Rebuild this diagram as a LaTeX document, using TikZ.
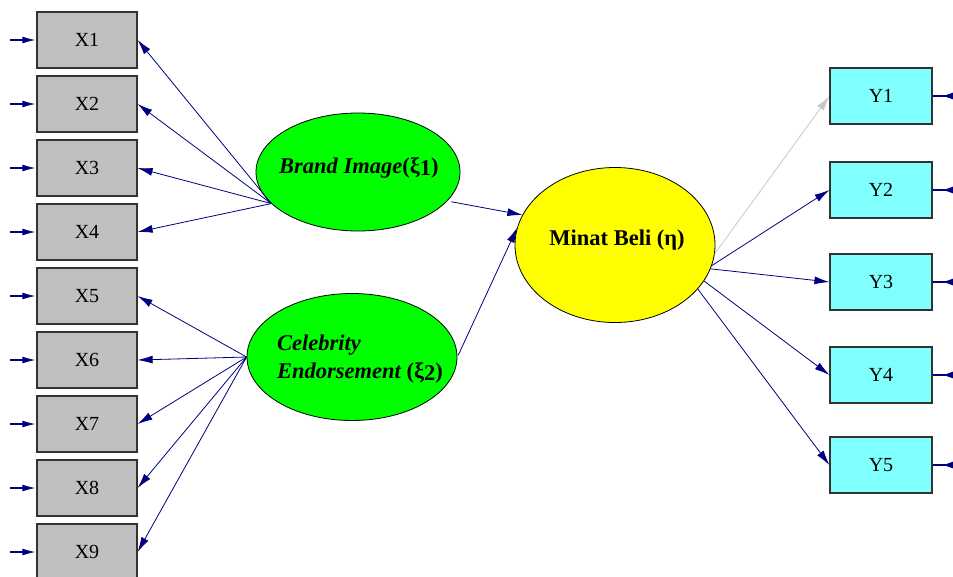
\documentclass[tikz,border=0pt]{standalone}
\usepackage{fontspec}
\setmainfont{Liberation Serif}
\usetikzlibrary{arrows.meta,shapes.geometric}
\definecolor{navy}{HTML}{000080}
\definecolor{boxgrey}{HTML}{C0C0C0}
\definecolor{cyanbox}{HTML}{80FFFF}
\definecolor{lgreen}{HTML}{00FF00}
\definecolor{lyellow}{HTML}{FFFF00}
\definecolor{lgrey}{HTML}{C8C8C8}
\begin{document}
\begin{tikzpicture}[x=1pt,y=-1pt,
  xbox/.style={draw=black!80,line width=1.2pt,fill=boxgrey,minimum width=100pt,minimum height=56pt,inner sep=0pt,font=\fontsize{20}{22}\selectfont},
  ybox/.style={xbox,fill=cyanbox,minimum width=102pt},
  lat/.style={ellipse,draw=black,line width=0.8pt,inner sep=0pt},
  lnk/.style={draw=navy,line width=0.8pt,-{Latex[length=15pt,width=8pt]}},
  err/.style={draw=navy,line width=1.2pt,-{Latex[length=13pt,width=7pt]}},
  erry/.style={draw=navy,line width=1.2pt,-{Latex[length=11pt,width=7pt,reversed]}},
  lattext/.style={font=\fontsize{22.5}{28}\selectfont\bfseries\itshape,inner sep=0pt,align=left}
]
\useasboundingbox (0,0) rectangle (953,576);
\clip (0,0) rectangle (953,576);
\fill[white] (0,0) rectangle (953,576);
% X boxes
\foreach \i/\yy in {1/40,2/104,3/168,4/232,5/296,6/360,7/424,8/488,9/552}{
  \node[xbox] (x\i) at (87,\yy) {X\i};
  \coordinate (ex\i) at (10,\yy);
  \draw[err,shorten >=1pt] (ex\i) -- (x\i.west);
}
% Y boxes
\foreach \i/\yy in {1/96,2/190,3/282,4/375,5/465}{
  \node[ybox] (y\i) at (881,\yy) {Y\i};
  \coordinate (ey\i) at (953,\yy);
  \draw[erry] (y\i.east) -- (ey\i);
}
% latent variables
\node[lat,fill=lgreen,minimum width=204pt,minimum height=118pt] (bi) at (358,172) {};
\node[lattext,anchor=west] (bit) at (279,168) {Brand Image{\upshape(ξ\raisebox{-2pt}{1})}};
\node[lat,fill=lgreen,minimum width=210pt,minimum height=127pt] (ce) at (352,357) {};
\node[lattext,anchor=west] (cet) at (277,359) {Celebrity\\Endorsement {\upshape(ξ\raisebox{-2pt}{2})}};
\node[lat,fill=lyellow,minimum width=200pt,minimum height=155pt] (mb) at (615,245) {};
\node[font=\fontsize{22.5}{26}\selectfont\bfseries,inner sep=0pt] (mbt) at (617,240) {Minat Beli (η)};
% loadings X
\foreach \i in {1,2,3,4}{\draw[lnk] (bi.200) -- (x\i.east);}
\foreach \i in {5,6,7,8,9}{\draw[lnk] (ce.west) -- (x\i.east);}
% structural
\draw[lnk,shorten <=4pt] (bi.-18) -- (mb.162);
\draw[lnk,shorten <=2pt] (ce.east) -- (mb.170);
% loadings Y
\draw[lnk,draw=lgrey] (mb.-5) -- (y1.west);
\draw[lnk] (mb.-12) -- (y2.west);
\draw[lnk] (mb.-14) -- (y3.west);
\draw[lnk] (mb.-22) -- (y4.west);
\draw[lnk] (mb.-28) -- (y5.west);
\end{tikzpicture}
\end{document}
